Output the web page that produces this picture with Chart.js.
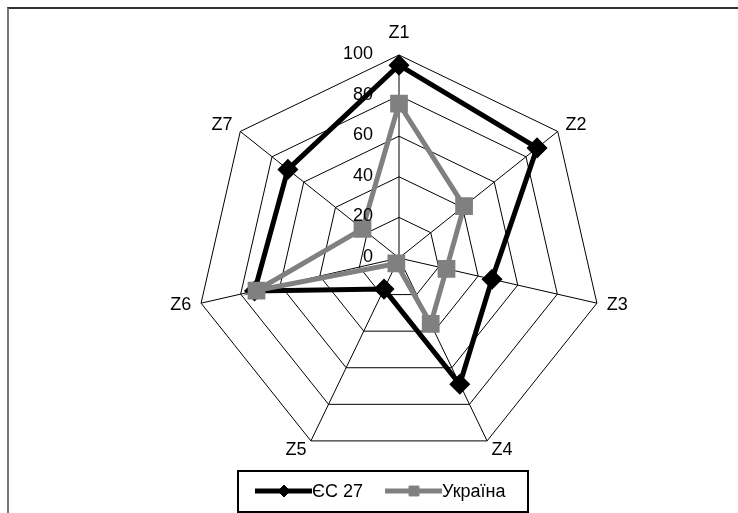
<!DOCTYPE html>
<html>
<head>
<meta charset="utf-8">
<script src="https://cdn.jsdelivr.net/npm/chart.js@4.4.1/dist/chart.umd.min.js"></script>
<style>
    html, body {
        margin: 0;
        padding: 0;
        background: #ffffff;
        overflow: hidden;
    }
    .wrap {
        position: relative;
        width: 738px;
        height: 513px;
    }
    .frame {
        position: absolute;
        left: 7px;
        top: 7px;
        width: 800px;
        height: 600px;
        border-top: 2px solid #333333;
        border-left: 2px solid #777777;
    }
    canvas {
        position: absolute;
        left: 0;
        top: 0;
    }
</style>
</head>
<body>
<div class="wrap">
    <div class="frame"></div>
    <canvas id="radarChart" width="738" height="513"></canvas>
</div>

<script>
// ===============================
// DATA
// ===============================

const axisLabels = ['Z1', 'Z2', 'Z3', 'Z4', 'Z5', 'Z6', 'Z7'];

const euValues = [95, 87, 47, 69, 17, 73, 70];
const uaValues = [76, 41, 24, 36, 3, 72, 23];

const seriesNames = ['ЄС 27', 'Україна'];

const tickMin = 0;
const tickMax = 100;
const tickStep = 20;

const FONT = '18px "Liberation Sans", Arial, sans-serif';

// ===============================
// TICKS + AXIS LABELS (drawn next to the scale)
// ===============================

const labelsPlugin = {
    id: 'labelsPlugin',
    afterDraw(chart) {
        const scale = chart.scales.r;
        const c = chart.ctx;
        const r = scale.drawingArea;

        c.save();
        c.font = FONT;
        c.fillStyle = '#000000';

        // value ticks, left of the Z1 axis
        c.textAlign = 'right';
        c.textBaseline = 'middle';
        scale.ticks.forEach(tick => {
            const y = scale.yCenter - scale.getDistanceFromCenterForValue(tick.value);
            c.fillText(String(tick.value), scale.xCenter - 26, y - 1);
        });

        // Z1..Z7 labels outside the outer ring
        axisLabels.forEach((label, i) => {
            const p = scale.getPointPosition(i, r + 10);
            const dx = p.x - scale.xCenter;
            if (Math.abs(dx) < 5) {
                const top = scale.getPointPosition(i, r + 13);
                c.textAlign = 'center';
                c.textBaseline = 'bottom';
                c.fillText(label, top.x, top.y);
                return;
            }
            c.textAlign = dx > 0 ? 'left' : 'right';
            c.textBaseline = 'middle';
            c.fillText(label, p.x, p.y);
        });

        c.restore();
    }
};

// ===============================
// LEGEND BOX
// ===============================

const legendPlugin = {
    id: 'legendPlugin',
    afterDraw(chart) {
        const c = chart.ctx;
        const sets = chart.data.datasets;

        c.save();
        c.strokeStyle = '#000000';
        c.lineWidth = 2;
        c.strokeRect(238, 471, 290, 41);

        const items = [
            { x: 255, set: sets[1] },
            { x: 385, set: sets[0] }
        ];

        items.forEach(item => {
            const y = 491;
            const ds = item.set;

            c.strokeStyle = ds.borderColor;
            c.lineWidth = ds.borderWidth;
            c.beginPath();
            c.moveTo(item.x, y);
            c.lineTo(item.x + 57, y);
            c.stroke();

            // marker on top of the line
            c.lineWidth = 1;
            c.fillStyle = ds.borderColor;
            Chart.helpers.drawPoint(c, {
                pointStyle: ds.pointStyle,
                radius: ds.pointStyle === 'rect' ? 7 : 6,
                borderWidth: 1
            }, item.x + 29, y);

            c.font = FONT;
            c.fillStyle = '#000000';
            c.textAlign = 'left';
            c.textBaseline = 'middle';
            c.fillText(ds.label, item.x + 57, y + 1);
        });

        c.restore();
    }
};

// ===============================
// RADAR CHART
// ===============================

const radarCtx = document.getElementById('radarChart');

if (radarCtx) {
    new Chart(radarCtx, {
        type: 'radar',
        data: {
            labels: axisLabels,
            datasets: [
                {
                    label: seriesNames[1],
                    data: uaValues,
                    borderColor: '#808080',
                    backgroundColor: '#808080',
                    pointBackgroundColor: '#808080',
                    pointBorderColor: '#808080',
                    pointStyle: 'rect',
                    pointRadius: 9,
                    borderWidth: 5,
                    fill: false,
                    order: 1
                },
                {
                    label: seriesNames[0],
                    data: euValues,
                    borderColor: '#000000',
                    backgroundColor: '#000000',
                    pointBackgroundColor: '#000000',
                    pointBorderColor: '#000000',
                    pointStyle: 'rectRot',
                    pointRadius: 7,
                    borderWidth: 5,
                    fill: false,
                    order: 2
                }
            ]
        },
        options: {
            responsive: false,
            animation: false,
            devicePixelRatio: 1,
            layout: {
                padding: {
                    left: 196,
                    right: 136,
                    top: 55,
                    bottom: 52
                }
            },
            elements: {
                line: {
                    tension: 0
                }
            },
            plugins: {
                legend: {
                    display: false
                },
                tooltip: {
                    enabled: false
                }
            },
            scales: {
                r: {
                    min: tickMin,
                    max: tickMax,
                    ticks: {
                        stepSize: tickStep,
                        display: false
                    },
                    pointLabels: {
                        display: false
                    },
                    grid: {
                        color: '#000000',
                        lineWidth: 1
                    },
                    angleLines: {
                        color: '#000000',
                        lineWidth: 1
                    }
                }
            }
        },
        plugins: [labelsPlugin, legendPlugin]
    });
}
</script>
</body>
</html>
